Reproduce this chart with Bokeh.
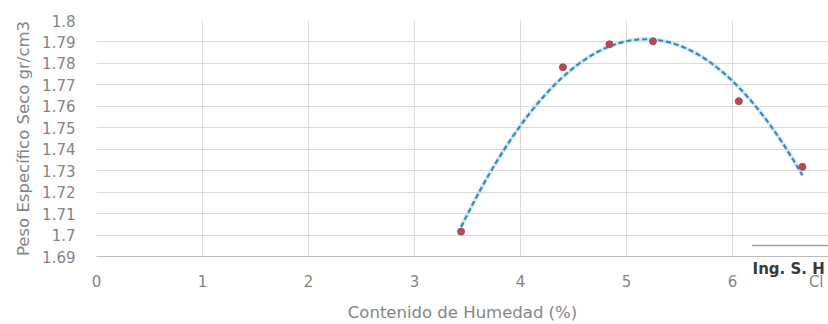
import numpy as np
from bokeh.plotting import figure
from bokeh.models import FixedTicker, Range1d, LinearAxis
from bokeh.embed import file_html
from bokeh.resources import INLINE

# --- data ---
humedad = [3.44, 4.40, 4.84, 5.25, 6.06, 6.66]              # Contenido de Humedad (%)
peso_seco = [1.7016, 1.7782, 1.7889, 1.7903, 1.7624, 1.7318]  # Peso Especifico Seco gr/cm3

x_ticks = [0, 1, 2, 3, 4, 5, 6]
x_tick_labels = ["0", "1", "2", "3", "4", "5", "6"]
y_ticks = [1.69, 1.70, 1.71, 1.72, 1.73, 1.74, 1.75, 1.76, 1.77, 1.78, 1.79, 1.80]
y_tick_labels = ["1.69", "1.7", "1.71", "1.72", "1.73", "1.74", "1.75", "1.76",
                 "1.77", "1.78", "1.79", "1.8"]

x_title = "Contenido de Humedad (%)"
y_title = "Peso Específico Seco gr/cm3"

# fragments of the signature stamp that overlaps the scan's bottom-right corner
stamp_pos = [6.53]
stamp_labels = ["Ing. S. H"]
stamp2_pos = [6.79]
stamp2_labels = ["Cl"]
stamp_line_x = [6.19, 6.91]
stamp_line_y = [1.6951, 1.6951]

FONT = "DejaVu Sans"
GREY = "#858585"

p = figure(width=828, height=324, output_backend="svg", toolbar_location=None,
           x_range=Range1d(0, 6.906), y_range=Range1d(1.69, 1.80),
           x_axis_location=None,
           min_border_left=96, min_border_right=0, min_border_top=20,
           min_border_bottom=67)
p.outline_line_color = None
p.background_fill_color = "white"
p.border_fill_color = "white"

# stamp text row directly under the plot area (carries the x axis line)
stamp_axis = LinearAxis(ticker=FixedTicker(ticks=stamp_pos),
                        major_label_overrides={t: l for t, l in zip(stamp_pos, stamp_labels)})
stamp_axis.axis_line_color = "#bdbdbd"
stamp_axis.major_tick_line_color = None
stamp_axis.minor_tick_line_color = None
stamp_axis.major_label_standoff = -3
stamp_axis.major_label_text_font = FONT
stamp_axis.major_label_text_font_size = "15px"
stamp_axis.major_label_text_font_style = "bold"
stamp_axis.major_label_text_color = "#3a3a3a"
p.add_layout(stamp_axis, "below")

# main x axis
all_x = x_ticks + stamp2_pos
overrides = {t: l for t, l in zip(x_ticks, x_tick_labels)}
overrides.update({t: l for t, l in zip(stamp2_pos, stamp2_labels)})
xaxis = LinearAxis(ticker=FixedTicker(ticks=all_x), major_label_overrides=overrides)
xaxis.axis_line_color = None
xaxis.major_label_standoff = -14
xaxis.axis_label = x_title
xaxis.axis_label_standoff = 9
xaxis.axis_label_text_font_size = "16.5px"
p.add_layout(xaxis, "below")

p.yaxis.ticker = FixedTicker(ticks=y_ticks)
p.yaxis.major_label_overrides = {t: l for t, l in zip(y_ticks, y_tick_labels)}
p.yaxis.axis_line_color = None
p.yaxis.major_label_standoff = 15
p.yaxis.axis_label = y_title
p.yaxis.axis_label_standoff = 6
p.yaxis.axis_label_text_font_size = "16.5px"

for ax in (xaxis, p.yaxis[0]):
    ax.major_tick_line_color = None
    ax.minor_tick_line_color = None
    ax.major_label_text_font = FONT
    ax.major_label_text_font_size = "15px"
    ax.major_label_text_color = GREY
    ax.axis_label_text_font = FONT
    ax.axis_label_text_font_style = "normal"
    ax.axis_label_text_color = GREY

p.xgrid.ticker = FixedTicker(ticks=x_ticks)
p.ygrid.ticker = FixedTicker(ticks=y_ticks)
p.grid.grid_line_color = "#dadada"
p.grid.grid_line_width = 1

# trendline: 2nd order polynomial fitted to the measured points
coef = np.polyfit(humedad, peso_seco, 2)
xs = np.linspace(min(humedad), max(humedad), 120)
ys = np.polyval(coef, xs)
p.line(xs, ys, line_color="#a8dcf0", line_width=4, line_alpha=0.6)
p.line(xs, ys, line_color="#3f86b8", line_width=2.2, line_dash="5 3")

# measured points
p.scatter(humedad, peso_seco, size=7, fill_color="#b04a55", line_color="#b04a55")

# dotted signature line of the stamp
p.line(stamp_line_x, stamp_line_y, line_color="#444444", line_width=1.5, line_dash="1 1")

open("out.html", "w").write(file_html(p, INLINE))
